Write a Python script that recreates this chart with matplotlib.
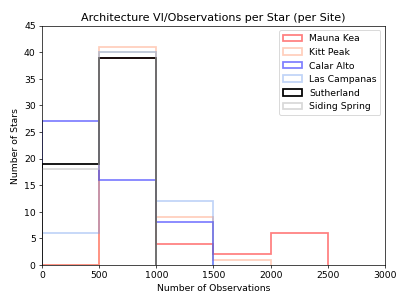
import numpy as np
import matplotlib
matplotlib.use("Agg")
import matplotlib.pyplot as plt

plt.rcParams["font.size"] = 10.5

bins = [0, 500, 1000, 1500, 2000, 2500, 3000]
sites = ["Mauna Kea", "Kitt Peak", "Calar Alto", "Las Campanas", "Sutherland", "Siding Spring"]
mauna_kea = [0, 39, 4, 2, 6, 0]
kitt_peak = [0, 41, 9, 1, 0, 0]
calar_alto = [27, 16, 8, 0, 0, 0]
las_campanas = [6, 40, 12, 0, 0, 0]
sutherland = [19, 39, 0, 0, 0, 0]
siding_spring = [18, 40, 0, 0, 0, 0]
counts = [mauna_kea, kitt_peak, calar_alto, las_campanas, sutherland, siding_spring]
colors = ["red", "lightsalmon", "blue", "cornflowerblue", "black", "silver"]
alphas = [0.5, 0.5, 0.5, 0.4, 1.0, 0.6]

fig = plt.figure(figsize=(6.4, 4.8), dpi=63.6)
ax = fig.add_axes([0.103, 0.131, 0.843, 0.784])
for name, c, col, a in zip(sites, counts, colors, alphas):
    # use bin edges up to the last non-empty bin
    last = max(i for i, v in enumerate(c) if v > 0) + 1
    b = bins[: last + 1]
    vals = c[:last]
    centers = [(b[i] + b[i + 1]) / 2 for i in range(last)]
    ax.hist(centers, bins=b, weights=vals, histtype="step", color=col,
            alpha=a, linewidth=2, label=name)
ax.set_xlim(0, 3000)
ax.set_ylim(0, 45)
ax.set_xticks(bins)
ax.set_title("Architecture VI/Observations per Star (per Site)")
ax.set_xlabel("Number of Observations")
ax.set_ylabel("Number of Stars")
ax.legend(loc="upper right")
fig.savefig("out.png", dpi=63.6)
